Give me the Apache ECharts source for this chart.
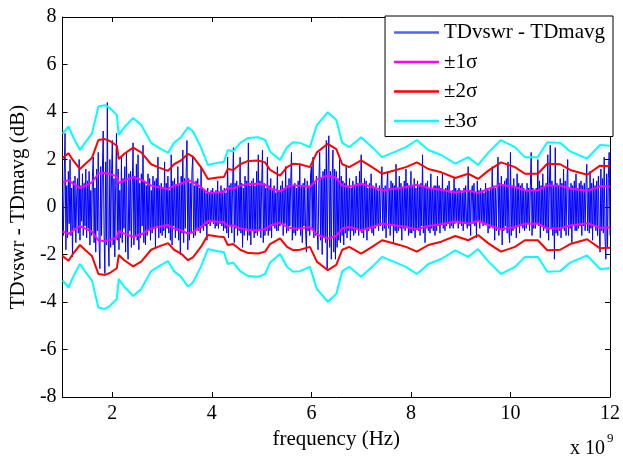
<!DOCTYPE html>
<html>
<head>
<meta charset="utf-8">
<script src="https://cdn.jsdelivr.net/npm/echarts@6/dist/echarts.min.js"></script>
<style>
html,body{margin:0;padding:0;background:#fff;}
#chart{width:623px;height:458px;}
</style>
</head>
<body>
<div id="chart"></div>
<script>
// ---- data (frequency in units of 1e9 Hz) ----
const xTicks = [2, 4, 6, 8, 10, 12];
const yTicks = [-8, -6, -4, -2, 0, 2, 4, 6, 8];
const freqStart = 1;
const freqEnd = 12;

// TDvswr - TDmavg (dB), evenly sampled from 1 to 12 GHz (30 samples per 0.5 GHz)
const diffValues = [
  0.6, -1.2, 1.4, 3.1, -1.8, 0.9, -1.3, 1.5, -0.7, 2.0, -1.2, 0.8, -2.1, 1.1, -0.9, 1.3, -1.5, 0.5, 1.2, -1.1, 2.0, -1.4, 0.9, -0.6, 1.4, -1.2, 1.0, -0.8, 1.6, -1.3,
  1.1, -0.9, 1.5, -1.6, 0.7, -1.2, 1.3, 2.1, -1.5, 0.8, -1.9, 1.6, -1.0, 2.3, -1.4, -2.6, 1.7, -1.2, 1.5, 3.2, -1.0, -2.8, 1.9, -1.6, 4.4, -1.3, -2.5, 2.0, -1.7, 1.3,
  2.8, -1.6, 1.2, -2.1, 0.9, 3.1, -1.4, 1.6, -1.8, 0.7, -1.3, 2.1, -1.5, 1.2, -0.9, 1.7, -1.9, 2.3, -1.1, -2.2, 1.4, -1.0, 1.5, -1.7, 0.8, 2.7, -1.6, 1.3, -1.2, 1.8,
  -1.4, 2.2, -1.8, 1.0, -1.3, 1.4, -0.8, 2.6, -1.5, 1.1, -1.6, 0.9, -1.2, 1.4, -1.0, 1.2, -1.4, 0.7, -1.1, 1.3, -0.9, 1.1, -1.7, 1.2, -0.8, 2.1, -1.3, 0.9, -1.1, 1.0,
  -1.2, 0.8, -1.0, 1.9, -1.3, 1.0, -0.9, 1.3, -1.1, 0.7, -1.4, 2.2, -1.6, 1.1, -0.8, 1.2, -1.3, 0.9, -1.0, 1.7, -1.4, 1.0, -2.0, 1.3, -1.1, 2.4, -1.5, 1.2, -0.9, 1.4,
  2.8, -1.8, 1.2, -1.4, 1.0, -1.1, 1.5, 2.1, -1.3, 0.9, -1.2, 1.1, -0.9, 1.2, -1.0, 0.8, -1.1, 1.7, -0.9, 0.8, -1.0, 0.7, -0.8, 0.6, -1.4, 0.8, -0.7, 0.6, -0.8, 0.7,
  -0.6, 0.8, -0.7, 0.6, -0.9, 0.7, -0.8, 1.1, -0.9, 0.6, -0.7, 0.9, -0.8, 0.7, -1.0, 0.8, -0.9, 0.6, -1.1, 2.1, -1.3, 0.9, -0.8, 1.0, -1.1, 0.9, 2.5, -1.5, 1.0, -0.9,
  1.1, -1.2, 0.9, -1.0, 2.1, -1.1, 1.0, -1.7, 0.8, -1.2, 1.3, -0.9, 1.1, -1.4, 2.7, -1.2, 0.9, -1.6, 1.1, -1.0, 1.2, -1.3, 0.9, -1.1, 1.5, -1.2, 2.2, -1.0, 1.1, -1.3,
  0.9, 2.4, -1.5, 1.0, -1.2, 0.8, -1.0, 2.1, -1.2, 0.9, -1.0, 1.2, -1.3, 0.7, -0.8, 0.9, -0.9, 0.6, -1.0, 1.7, -1.0, 0.7, -0.8, 0.9, -0.7, 1.1, -1.2, 0.8, -0.7, 1.7,
  -1.1, 0.9, -1.0, 1.2, -0.8, 1.0, 2.3, -1.4, 0.9, -1.1, 1.0, -1.2, 0.8, -1.0, 1.1, -0.9, 1.8, -1.2, 0.9, -1.5, 1.0, -0.8, 1.2, -1.0, -1.9, 1.1, -1.0, 0.9, -1.2, 1.4,
  1.7, -0.9, 2.1, -1.3, 1.0, -1.2, 1.3, -1.0, -1.8, 1.1, 2.3, -1.4, 1.2, -2.0, 1.5, -1.3, 1.6, -1.5, 2.8, -2.6, 1.4, 3.0, -1.7, 1.5, -2.2, 1.3, 2.4, -1.9, 1.6, -2.2,
  1.5, -1.7, 1.2, -1.4, 2.0, -1.5, 1.3, -1.2, 1.1, -1.6, 1.0, -1.1, 1.7, -1.3, 0.9, -1.0, 1.2, -1.4, 0.8, -1.0, 1.1, -1.2, 0.9, -1.1, 1.3, -0.9, 1.0, -1.2, 1.5, -1.0,
  2.2, -1.1, 1.0, -1.3, 1.2, -0.9, 1.1, -1.4, 0.8, -1.0, 1.0, -0.9, 1.4, -1.1, 0.9, -1.2, 0.8, -0.9, 1.0, -0.8, 0.7, -1.0, 0.9, -0.8, 0.7, 1.7, -1.0, 0.8, -0.9, 0.9,
  -1.3, 0.9, 1.5, -0.9, 0.8, -1.2, 1.1, -0.8, 1.0, -1.5, 0.9, -1.0, 1.8, -1.1, 0.8, -1.0, 1.3, -0.9, 1.0, -1.4, 0.8, -0.9, 1.1, -1.0, 1.6, -0.8, 1.0, -1.2, 0.9, -1.1,
  1.5, -1.1, 0.9, -1.0, 1.2, -1.3, 0.8, -0.9, 1.1, -1.0, 0.9, -1.2, 1.0, -0.8, 2.2, -1.1, 0.9, -1.5, 1.0, -0.9, 1.1, -1.0, 0.8, -1.1, 1.4, -0.9, 0.8, -1.0, 0.9, -1.2,
  0.9, -1.0, 1.3, -0.8, 0.9, -1.1, 0.8, -0.7, 1.4, -0.9, 0.7, -1.0, 0.8, -0.8, 0.9, -0.7, 1.1, -0.9, 0.6, -0.8, 0.7, -0.9, 1.2, -0.7, 0.8, -0.6, 0.7, -0.9, 0.8, -0.7,
  0.7, -0.8, 0.6, -1.0, 0.8, -0.7, 0.9, -0.6, -0.9, 1.7, -0.8, 0.7, -1.2, 0.6, 0.9, -0.7, 1.0, -0.8, 0.6, -1.3, 1.1, -0.6, 0.7, -0.9, 0.8, -0.6, 0.7, -0.8, 0.6, -0.7,
  1.0, -0.7, 0.8, -1.1, 0.7, -0.9, 0.8, -0.8, 1.7, -0.9, 0.9, -1.4, 0.8, -1.0, 0.9, 2.1, -1.2, 1.0, -0.9, 1.3, -1.6, 0.9, -1.0, 1.1, -0.8, 1.2, -1.1, 1.9, -1.0, -1.5,
  2.3, -1.2, 0.9, -1.0, 1.2, -0.9, 0.8, -1.3, 1.4, -0.8, 1.0, -1.1, 0.9, -0.8, 1.0, -0.9, 0.8, -1.0, 0.7, -0.9, 1.0, -0.7, 0.8, -1.0, 0.9, 2.3, -1.2, 0.8, -0.9, 0.7,
  -0.9, 0.8, -0.7, 2.0, -0.8, 1.1, -1.3, 0.9, -0.8, 1.4, -1.0, 0.8, -0.9, 1.0, -1.1, 2.2, -1.4, 1.0, 2.6, -0.9, 1.1, -1.2, 0.9, -2.2, 2.5, -1.1, 1.0, -1.2, 0.9, -1.0,
  1.2, -1.3, 1.0, -0.9, 1.6, -1.0, 1.1, -1.2, 0.9, 2.0, -1.2, 0.8, -0.9, 1.0, -1.5, 0.9, -0.8, 1.1, -1.0, 1.4, -1.0, 0.8, -0.9, 1.0, -0.8, 1.1, -1.2, 0.9, -0.8, 1.0,
  -1.0, 0.9, 1.8, -1.0, 0.8, -1.1, 1.5, -0.9, 1.0, -1.4, 1.2, -0.8, 0.9, -1.0, 1.1, -1.2, 1.3, -0.9, -1.9, 1.6, -1.0, 1.2, -1.1, 2.1, -1.3, -2.2, 1.4, -1.7, 1.2, 2.3, -1.2
];

// running standard deviation sigma (dB) at these frequencies
const envFreq = [
  1.00, 1.12, 1.22, 1.35, 1.45, 1.59, 1.72, 1.85, 1.95, 2.09, 2.13, 2.24, 2.42, 2.58, 2.78, 2.94,
  3.12, 3.24, 3.38, 3.52, 3.62, 3.78, 3.92, 4.12, 4.24, 4.32, 4.43, 4.57, 4.73, 4.93, 5.07, 5.17,
  5.37, 5.51, 5.63, 5.77, 5.97, 6.11, 6.33, 6.50, 6.62, 6.76, 7.00, 7.22, 7.42, 7.70, 7.90, 8.12,
  8.35, 8.61, 8.89, 9.15, 9.35, 9.55, 9.81, 10.09, 10.29, 10.55, 10.74, 11.00, 11.20, 11.54, 11.80, 12.00
];
const sigma = [
  1.03, 1.13, 0.97, 0.80, 0.90, 1.03, 1.41, 1.43, 1.39, 1.29, 1.01, 1.12, 1.25, 1.15, 0.90, 0.83,
  0.76, 0.90, 0.98, 1.12, 1.06, 0.84, 0.59, 0.62, 0.63, 0.80, 0.78, 0.90, 0.97, 0.98, 0.94, 0.78,
  0.66, 0.84, 0.91, 0.90, 0.84, 1.15, 1.33, 1.22, 0.90, 0.84, 0.98, 0.84, 0.70, 0.78, 0.84, 0.94,
  0.80, 0.73, 0.61, 0.70, 0.59, 0.76, 0.94, 0.84, 0.70, 0.70, 0.91, 0.90, 0.78, 0.68, 0.87, 0.86
];

const legendNames = ['TDvswr - TDmavg', '\u00B11\u03C3', '\u00B12\u03C3', '\u00B13\u03C3'];

// ---- build series ----
const step = (freqEnd - freqStart) / (diffValues.length - 1);
const diffData = diffValues.map((v, i) => [freqStart + i * step, v]);
function band(k) { return envFreq.map((f, i) => [f, k * sigma[i]]); }

const FONT = 'Liberation Serif';
const envColors = ['#ff00ff', '#ff0000', '#00ffff'];

const series = [{
  name: legendNames[0], type: 'line', data: diffData, symbol: 'none',
  lineStyle: { color: '#0000ff', width: 1 }, itemStyle: { color: '#0000ff' }, z: 2
}];
[1, 2, 3].forEach((k, idx) => {
  [k, -k].forEach(m => {
    series.push({
      name: legendNames[k], type: 'line', data: band(m), symbol: 'none',
      lineStyle: { color: envColors[idx], width: 2 }, itemStyle: { color: envColors[idx] }, z: 3 + idx
    });
  });
});

const tickStyle = { inside: true, length: 5, lineStyle: { color: '#000', width: 1 } };
const lineStyleAxis = { show: true, onZero: false, lineStyle: { color: '#000', width: 1 } };

const chart = echarts.init(document.getElementById('chart'));
chart.setOption({
  animation: false,
  backgroundColor: '#fff',
  grid: { left: 61, right: 10, top: 17, bottom: 61, containLabel: false },
  legend: {
    data: [
      { name: legendNames[0], itemStyle: { color: '#5060ff' } },
      { name: legendNames[1], itemStyle: { color: '#ff00ff' } },
      { name: legendNames[2], itemStyle: { color: '#ff0000' } },
      { name: legendNames[3], itemStyle: { color: '#00ffff' } }
    ],
    icon: 'rect', orient: 'vertical', right: 10, top: 16,
    backgroundColor: '#fff', borderColor: '#000', borderWidth: 1, borderRadius: 0,
    padding: [6, 8, 5, 9], itemWidth: 45, itemHeight: 2.5, itemGap: 8.5,
    textStyle: { fontFamily: FONT, fontSize: 21, color: '#000', lineHeight: 21 },
    selectedMode: false
  },
  xAxis: [{
    type: 'value', min: freqStart, max: freqEnd, position: 'bottom',
    name: 'frequency (Hz)', nameLocation: 'middle', nameGap: 30,
    nameTextStyle: { fontFamily: FONT, fontSize: 21, color: '#000' },
    axisLine: lineStyleAxis,
    axisTick: Object.assign({ customValues: xTicks }, tickStyle),
    axisLabel: { customValues: xTicks, fontFamily: FONT, fontSize: 20, color: '#000', margin: 7 },
    splitLine: { show: false }
  }, {
    type: 'value', min: freqStart, max: freqEnd, position: 'top',
    axisLine: lineStyleAxis,
    axisTick: Object.assign({ customValues: xTicks }, tickStyle),
    axisLabel: { show: false }, splitLine: { show: false }
  }],
  yAxis: [{
    type: 'value', min: -8, max: 8, interval: 2, position: 'left',
    name: 'TDvswr - TDmavg (dB)', nameLocation: 'middle', nameGap: 29,
    nameTextStyle: { fontFamily: FONT, fontSize: 21, color: '#000' },
    axisLine: lineStyleAxis,
    axisTick: Object.assign({ customValues: yTicks }, tickStyle),
    axisLabel: { customValues: yTicks, fontFamily: FONT, fontSize: 20, color: '#000', margin: 6 },
    splitLine: { show: false }
  }, {
    type: 'value', min: -8, max: 8, interval: 2, position: 'right',
    axisLine: lineStyleAxis,
    axisTick: Object.assign({ customValues: yTicks }, tickStyle),
    axisLabel: { show: false }, splitLine: { show: false }
  }],
  graphic: [
    { type: 'text', left: 570, top: 439, style: { text: 'x 10', font: '20px "Liberation Serif"', fill: '#000' } },
    { type: 'text', left: 607, top: 432, style: { text: '9', font: '13px "Liberation Serif"', fill: '#000' } }
  ],
  series: series
});
</script>
</body>
</html>
